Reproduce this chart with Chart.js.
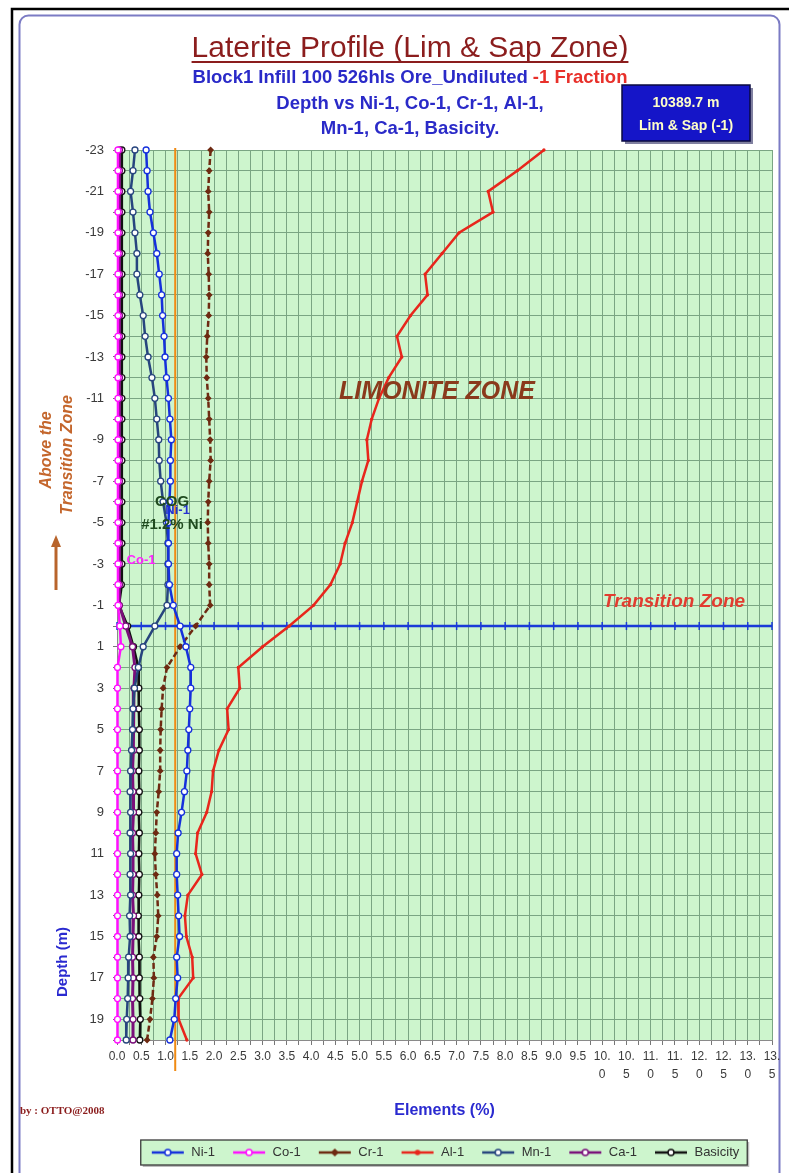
<!DOCTYPE html>
<html>
<head>
<meta charset="utf-8">
<script src="https://cdn.jsdelivr.net/npm/chart.js@4.4.0/dist/chart.umd.min.js"></script>
<style>
html, body { margin: 0; padding: 0; background: #fff; }
canvas { display: block; }
</style>
</head>
<body>
<canvas id="profileChart" width="789" height="1173"></canvas>
<script>
// depth (m), negative = above the transition zone
const depths = [-23, -22, -21, -20, -19, -18, -17, -16, -15, -14, -13, -12, -11, -10, -9, -8, -7, -6, -5, -4, -3, -2, -1,
  0, 1, 2, 3, 4, 5, 6, 7, 8, 9, 10, 11, 12, 13, 14, 15, 16, 17, 18, 19, 20];

const seriesNames = ["Ni-1", "Co-1", "Cr-1", "Al-1", "Mn-1", "Ca-1", "Basicity"];

const ni1 = [0.60, 0.62, 0.64, 0.68, 0.75, 0.82, 0.87, 0.92, 0.94, 0.97, 0.99, 1.02, 1.06, 1.09, 1.12, 1.10, 1.10, 1.08, 1.06, 1.06, 1.06, 1.08, 1.16,
  1.30, 1.42, 1.52, 1.52, 1.50, 1.48, 1.46, 1.44, 1.39, 1.33, 1.26, 1.23, 1.23, 1.25, 1.27, 1.29, 1.23, 1.25, 1.21, 1.18, 1.09];
const co1 = [0.02, 0.02, 0.02, 0.02, 0.02, 0.02, 0.02, 0.02, 0.02, 0.02, 0.02, 0.02, 0.02, 0.02, 0.02, 0.02, 0.02, 0.02, 0.02, 0.02, 0.02, 0.02, 0.02,
  0.06, 0.08, 0.01, 0.01, 0.01, 0.01, 0.01, 0.01, 0.01, 0.01, 0.01, 0.01, 0.01, 0.01, 0.01, 0.01, 0.01, 0.01, 0.01, 0.01, 0.01];
const cr1 = [1.93, 1.90, 1.88, 1.90, 1.88, 1.87, 1.89, 1.90, 1.89, 1.86, 1.84, 1.85, 1.88, 1.90, 1.92, 1.93, 1.90, 1.88, 1.87, 1.88, 1.90, 1.90, 1.92,
  1.62, 1.30, 1.03, 0.95, 0.92, 0.90, 0.89, 0.89, 0.86, 0.82, 0.80, 0.78, 0.80, 0.83, 0.85, 0.82, 0.75, 0.76, 0.73, 0.68, 0.62];
const al1 = [8.80, 8.25, 7.65, 7.75, 7.05, 6.70, 6.35, 6.40, 6.05, 5.77, 5.87, 5.60, 5.40, 5.25, 5.15, 5.18, 5.05, 4.95, 4.85, 4.70, 4.60, 4.40, 4.05,
  3.55, 3.00, 2.50, 2.53, 2.27, 2.30, 2.10, 1.98, 1.95, 1.85, 1.66, 1.62, 1.75, 1.46, 1.40, 1.43, 1.55, 1.57, 1.26, 1.27, 1.44];
const mn1 = [0.37, 0.33, 0.28, 0.33, 0.37, 0.41, 0.41, 0.47, 0.54, 0.58, 0.64, 0.72, 0.78, 0.82, 0.86, 0.87, 0.90, 0.95, 1.02, 1.05, 1.05, 1.05, 1.03,
  0.78, 0.54, 0.44, 0.36, 0.33, 0.32, 0.30, 0.28, 0.27, 0.28, 0.27, 0.28, 0.27, 0.28, 0.26, 0.27, 0.24, 0.23, 0.22, 0.20, 0.19];
const ca1 = [0.05, 0.05, 0.05, 0.05, 0.05, 0.05, 0.05, 0.05, 0.05, 0.05, 0.05, 0.05, 0.05, 0.05, 0.05, 0.05, 0.05, 0.05, 0.05, 0.05, 0.05, 0.05, 0.05,
  0.18, 0.32, 0.37, 0.35, 0.34, 0.33, 0.34, 0.32, 0.33, 0.34, 0.32, 0.33, 0.33, 0.32, 0.34, 0.33, 0.32, 0.33, 0.32, 0.33, 0.33];
const basicity = [0.10, 0.10, 0.10, 0.10, 0.10, 0.10, 0.10, 0.10, 0.10, 0.10, 0.10, 0.10, 0.10, 0.10, 0.10, 0.10, 0.10, 0.10, 0.10, 0.10, 0.10, 0.09, 0.04,
  0.22, 0.34, 0.44, 0.45, 0.45, 0.46, 0.46, 0.45, 0.46, 0.45, 0.46, 0.45, 0.46, 0.45, 0.44, 0.45, 0.46, 0.46, 0.47, 0.48, 0.47];

// transition zone line (depth 0) and cut-off grade line (1.2 % Ni)
const transitionDepth = 0;
const transitionTicks = [0, 0.5, 1, 1.5, 2, 2.5, 3, 3.5, 4, 4.5, 5, 5.5, 6, 6.5, 7, 7.5, 8, 8.5, 9, 9.5, 10, 10.5, 11, 11.5, 12, 12.5, 13, 13.5];
const cogValue = 1.2;
const cogDepths = [-23.1, 21.5];

const xMin = 0, xMax = 13.5, yMin = -23, yMax = 20;

const seriesValues = [ni1, co1, cr1, al1, mn1, ca1, basicity];
const seriesStyle = [
  { color: "#1530dc", marker: "circle", fill: "#ffffff", width: 2.5, radius: 3 },
  { color: "#ff10ff", marker: "circle", fill: "#ffffff", width: 2.5, radius: 3 },
  { color: "#6e2a12", marker: "rectRot", fill: "#6e2a12", width: 2.5, radius: 2.5, dash: [6, 3] },
  { color: "#e8261c", marker: "circle", fill: "#e8261c", width: 2.5, radius: 1 },
  { color: "#27457e", marker: "circle", fill: "#ffffff", width: 2.5, radius: 3 },
  { color: "#7a0f7a", marker: "circle", fill: "#ffffff", width: 3, radius: 3 },
  { color: "#111111", marker: "circle", fill: "#ffffff", width: 2.5, radius: 3 }
];

function pointsOf(values) {
  return values.map((v, i) => ({ x: v, y: depths[i] }));
}

function legendIcon(st) {
  const c = document.createElement("canvas");
  c.width = 34; c.height = 12;
  const g = c.getContext("2d");
  g.strokeStyle = st.color;
  g.lineWidth = 2.5;
  g.beginPath(); g.moveTo(1, 6); g.lineTo(33, 6); g.stroke();
  g.lineWidth = 1.5;
  g.fillStyle = st.fill;
  g.beginPath();
  if (st.marker === "rectRot") {
    g.moveTo(17, 3); g.lineTo(20, 6); g.lineTo(17, 9); g.lineTo(14, 6); g.closePath();
  } else {
    g.arc(17, 6, Math.max(st.radius, 2), 0, Math.PI * 2);
  }
  g.fill(); g.stroke();
  return c;
}
const legendIcons = seriesStyle.map(legendIcon);

const datasets = seriesNames.map((name, i) => ({
  label: name,
  data: pointsOf(seriesValues[i]),
  borderColor: seriesStyle[i].color,
  backgroundColor: seriesStyle[i].fill,
  borderWidth: seriesStyle[i].width,
  borderDash: seriesStyle[i].dash || [],
  pointStyle: seriesStyle[i].marker,
  pointRadius: seriesStyle[i].radius,
  pointBorderWidth: 1.3,
  pointBorderColor: seriesStyle[i].color,
  pointBackgroundColor: seriesStyle[i].fill,
  showLine: true,
  tension: 0,
  clip: false
}));

datasets.push({
  label: "Transition",
  data: transitionTicks.map(x => ({ x: x, y: transitionDepth })),
  borderColor: "#1a3ad8",
  borderWidth: 2.5,
  pointStyle: "line",
  rotation: 90,
  pointRadius: 4,
  pointBorderWidth: 1.5,
  pointBorderColor: "#1a3ad8",
  showLine: true,
  clip: false
});
datasets.push({
  label: "COG",
  data: cogDepths.map(d => ({ x: cogValue, y: d })),
  borderColor: "#f08a12",
  borderWidth: 2,
  pointRadius: 0,
  showLine: true,
  clip: false
});

function drawRotated(ctx, text, x, y, align) {
  ctx.save();
  ctx.translate(x, y);
  ctx.rotate(-Math.PI / 2);
  ctx.textAlign = align;
  ctx.fillText(text, 0, 0);
  ctx.restore();
}

const decorPlugin = {
  id: "decor",
  afterLayout(chart) {
    // legend sits centred under the page rather than the canvas
    const lg = chart.legend;
    if (lg) { lg.left += 59; lg.right += 59; }
  },
  beforeDraw(chart) {
    const { ctx, chartArea: a } = chart;
    ctx.save();
    ctx.fillStyle = "#ffffff";
    ctx.fillRect(0, 0, chart.width, chart.height);
    // frame
    ctx.strokeStyle = "#000000";
    ctx.lineWidth = 2.5;
    ctx.strokeRect(12, 9, 785, 1180);
    ctx.strokeStyle = "#7b7bc4";
    ctx.lineWidth = 2;
    ctx.beginPath();
    ctx.roundRect(19.5, 15.5, 760, 1170, 9);
    ctx.stroke();
    // plot area
    ctx.fillStyle = "#cdf5cd";
    ctx.fillRect(a.left, a.top, a.right - a.left, a.bottom - a.top);
    // legend frame
    const boxes = chart.legend && chart.legend.legendHitBoxes;
    if (boxes && boxes.length) {
      const l = Math.min(...boxes.map(b => b.left)) - 10;
      const r = Math.max(...boxes.map(b => b.left + b.width)) + 8;
      const t = Math.min(...boxes.map(b => b.top)) - 6;
      const btm = Math.max(...boxes.map(b => b.top + b.height)) + 6;
      ctx.fillStyle = "#bdbdbd";
      ctx.fillRect(l + 2, t + 2, r - l, btm - t);
      ctx.fillStyle = "#cdf5cd";
      ctx.fillRect(l, t, r - l, btm - t);
      ctx.strokeStyle = "#3a3a3a";
      ctx.lineWidth = 1.3;
      ctx.strokeRect(l, t, r - l, btm - t);
    }
    ctx.restore();
  },
  afterDraw(chart) {
    const ctx = chart.ctx;
    const sx = chart.scales.x;
    ctx.save();
    ctx.textBaseline = "alphabetic";
    ctx.textAlign = "center";
    // title
    ctx.fillStyle = "#8b1d1d";
    ctx.font = '30px "Liberation Sans", Arial, sans-serif';
    const title = "Laterite Profile (Lim & Sap Zone)";
    ctx.fillText(title, 410, 57);
    const tw = ctx.measureText(title).width;
    ctx.strokeStyle = "#8b1d1d";
    ctx.lineWidth = 2;
    ctx.beginPath(); ctx.moveTo(410 - tw / 2, 62); ctx.lineTo(410 + tw / 2, 62); ctx.stroke();
    // subtitle lines
    ctx.font = 'bold 18.5px "Liberation Sans", Arial, sans-serif';
    const s1a = "Block1 Infill 100 526hls Ore_Undiluted ";
    const s1b = "-1 Fraction";
    const w1a = ctx.measureText(s1a).width, w1b = ctx.measureText(s1b).width;
    const s1x = 410 - (w1a + w1b) / 2;
    ctx.textAlign = "left";
    ctx.fillStyle = "#2a2ac8";
    ctx.fillText(s1a, s1x, 83);
    ctx.fillStyle = "#e8302a";
    ctx.fillText(s1b, s1x + w1a, 83);
    ctx.textAlign = "center";
    ctx.fillStyle = "#2a2ac8";
    ctx.fillText("Depth vs Ni-1, Co-1, Cr-1, Al-1,", 410, 109);
    ctx.fillText("Mn-1, Ca-1, Basicity.", 410, 134);
    // info box
    ctx.fillStyle = "#8080a0";
    ctx.fillRect(625, 88, 128, 56);
    ctx.fillStyle = "#1515c8";
    ctx.fillRect(622, 85, 128, 56);
    ctx.strokeStyle = "#0a0a40";
    ctx.lineWidth = 1.5;
    ctx.strokeRect(622, 85, 128, 56);
    ctx.fillStyle = "#ffffc8";
    ctx.font = 'bold 14px "Liberation Sans", Arial, sans-serif';
    ctx.fillText("10389.7 m", 686, 107);
    ctx.fillText("Lim & Sap (-1)", 686, 130);
    // zone labels
    ctx.fillStyle = "#8a3a1c";
    ctx.font = 'italic bold 25px "Liberation Sans", Arial, sans-serif';
    ctx.fillText("LIMONITE ZONE", 437, 399);
    ctx.fillStyle = "#e23c30";
    ctx.font = 'italic bold 19px "Liberation Sans", Arial, sans-serif';
    ctx.fillText("Transition Zone", 674, 607);
    // cut-off grade labels
    ctx.fillStyle = "#2430d0";
    ctx.font = 'bold 13px "Liberation Sans", Arial, sans-serif';
    ctx.fillText("Ni-1", sx.getPixelForValue(1.25), 514);
    ctx.fillStyle = "#1f4a1f";
    ctx.font = 'bold 15px "Liberation Sans", Arial, sans-serif';
    ctx.fillText("COG", 172, 506);
    ctx.fillText("#1.2% Ni", 172, 529);
    ctx.fillStyle = "#ff22ff";
    ctx.font = 'bold 13px "Liberation Sans", Arial, sans-serif';
    ctx.fillText("Co-1", 141, 564);
    // left side labels
    ctx.fillStyle = "#c4662c";
    ctx.font = 'italic bold 16px "Liberation Sans", Arial, sans-serif';
    drawRotated(ctx, "Above the", 51, 450, "center");
    drawRotated(ctx, "Transition Zone", 72, 455, "center");
    ctx.strokeStyle = "#b8642c";
    ctx.fillStyle = "#b8642c";
    ctx.lineWidth = 3;
    ctx.beginPath(); ctx.moveTo(56, 590); ctx.lineTo(56, 545); ctx.stroke();
    ctx.beginPath(); ctx.moveTo(56, 535); ctx.lineTo(51, 547); ctx.lineTo(61, 547); ctx.closePath(); ctx.fill();
    ctx.fillStyle = "#2a2ad0";
    ctx.font = 'bold 15px "Liberation Sans", Arial, sans-serif';
    drawRotated(ctx, "Depth (m)", 67, 962, "center");
    // credit
    ctx.fillStyle = "#8b1d1d";
    ctx.textAlign = "left";
    ctx.font = 'bold 11px "Liberation Serif", "Times New Roman", serif';
    ctx.fillText("by : OTTO@2008", 20, 1114);
    ctx.restore();
  }
};

const gridColor = "#7aa583";
const tickFont = { family: '"Liberation Sans", Arial, sans-serif', size: 12 };

const ctx = document.getElementById("profileChart").getContext("2d");
const profileChart = new Chart(ctx, {
  type: "scatter",
  data: { datasets: datasets },
  options: {
    responsive: false,
    animation: false,
    devicePixelRatio: 1,
    layout: { padding: { left: 0, top: 150, right: 17, bottom: 4 } },
    scales: {
      x: {
        type: "linear",
        position: "bottom",
        min: xMin,
        max: xMax,
        afterFit: s => { s.height = 89; },
        border: { color: "#8a8a8a" },
        grid: { color: gridColor, tickLength: 5, tickColor: "#777" },
        ticks: {
          stepSize: 0.25,
          autoSkip: false,
          maxRotation: 0,
          padding: 3,
          color: "#3a3a3a",
          font: Object.assign({ lineHeight: 1.5 }, tickFont),
          callback: v => {
            if (Math.abs(v * 2 - Math.round(v * 2)) > 1e-6) return "";
            const s = v.toFixed(1);
            return v >= 10 ? [s.slice(0, 3), s.slice(3)] : s;
          }
        },
        title: {
          display: true,
          text: "Elements (%)",
          color: "#2a2ad0",
          font: { family: '"Liberation Sans", Arial, sans-serif', size: 16, weight: "bold" },
          padding: { top: 4, bottom: 9 }
        }
      },
      y: {
        type: "linear",
        reverse: true,
        min: yMin,
        max: yMax,
        afterFit: s => { s.width = 117; },
        border: { color: "#8a8a8a" },
        grid: { color: gridColor, tickLength: 4, tickColor: "#777" },
        ticks: {
          stepSize: 1,
          autoSkip: false,
          padding: 9,
          color: "#3a3a3a",
          font: { family: '"Liberation Sans", Arial, sans-serif', size: 13 },
          callback: v => (Math.abs(v) % 2 === 1 ? String(v) : "")
        }
      }
    },
    plugins: {
      tooltip: { enabled: false },
      legend: {
        position: "bottom",
        labels: {
          usePointStyle: true,
          pointStyleWidth: 34,
          boxHeight: 12,
          padding: 17,
          color: "#333",
          font: { family: '"Liberation Sans", Arial, sans-serif', size: 13 },
          filter: item => item.datasetIndex < seriesNames.length,
          generateLabels: chart => {
            const items = Chart.defaults.plugins.legend.labels.generateLabels(chart);
            items.forEach(it => {
              if (it.datasetIndex < legendIcons.length) it.pointStyle = legendIcons[it.datasetIndex];
            });
            return items;
          }
        }
      }
    }
  },
  plugins: [decorPlugin]
});
</script>
</body>
</html>
